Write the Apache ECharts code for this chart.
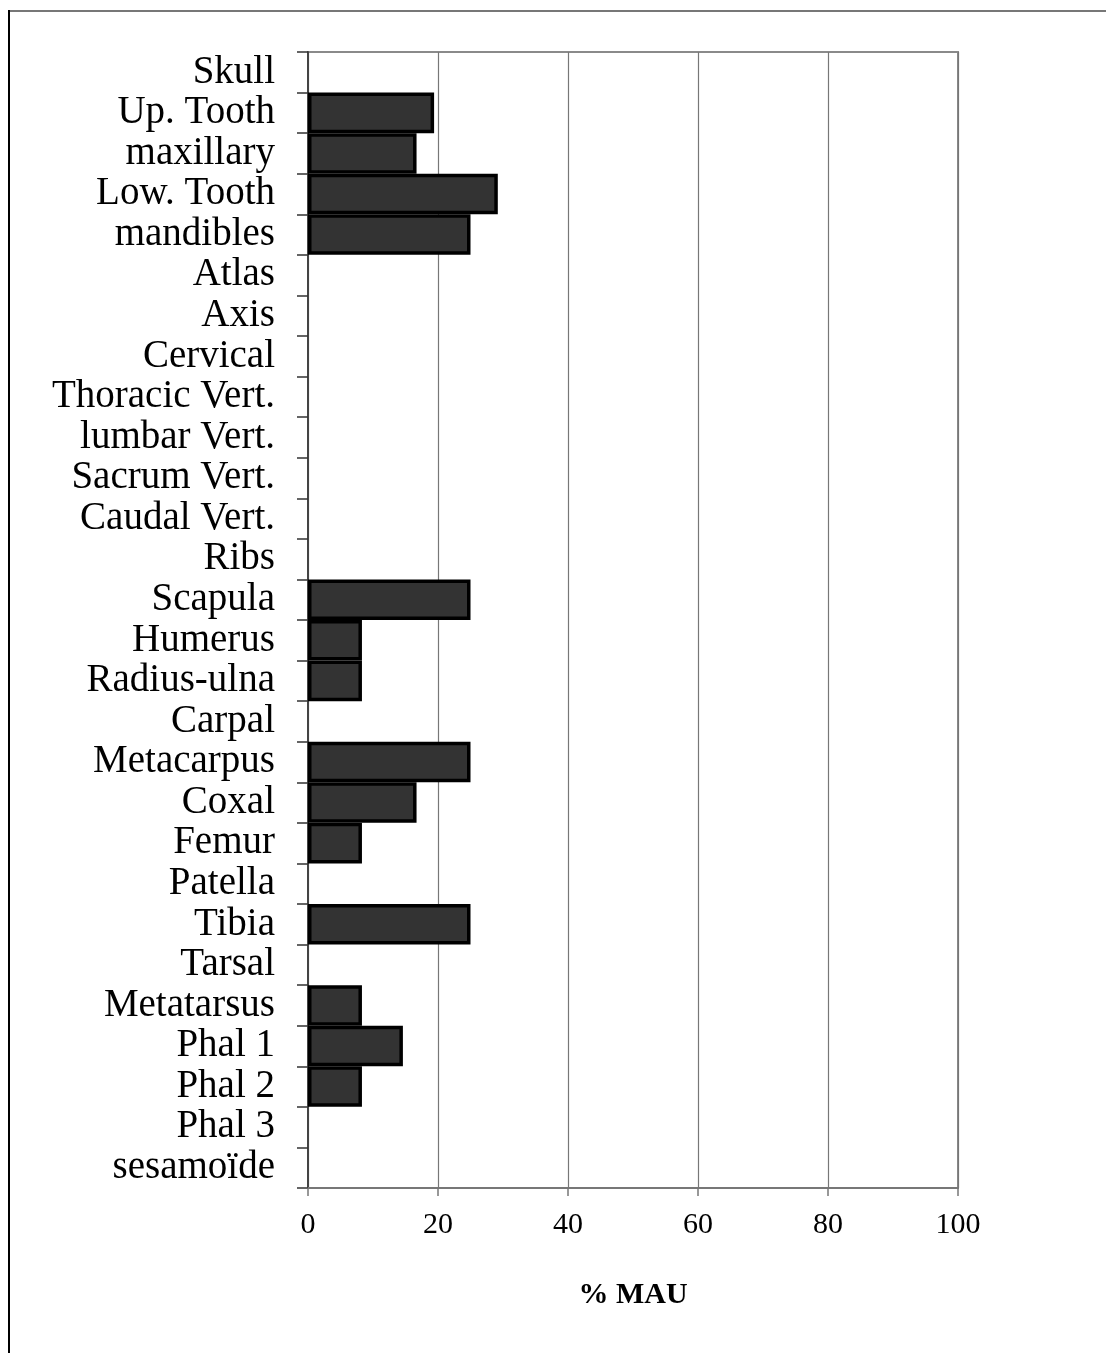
<!DOCTYPE html>
<html>
<head>
<meta charset="utf-8">
<style>
  html, body { margin: 0; padding: 0; background: #fff; }
  #chart { width: 1106px; height: 1353px; }
</style>
<script src="https://cdn.jsdelivr.net/npm/echarts@6/dist/echarts.min.js"></script>
</head>
<body>
<div id="chart"></div>
<script>
const categories = [
  'Skull', 'Up. Tooth', 'maxillary', 'Low. Tooth', 'mandibles', 'Atlas', 'Axis',
  'Cervical', 'Thoracic Vert.', 'lumbar Vert.', 'Sacrum Vert.', 'Caudal Vert.', 'Ribs',
  'Scapula', 'Humerus', 'Radius-ulna', 'Carpal', 'Metacarpus', 'Coxal', 'Femur',
  'Patella', 'Tibia', 'Tarsal', 'Metatarsus', 'Phal 1', 'Phal 2', 'Phal 3', 'sesamoïde'
];
const mauValues = [
  0, 19.4, 16.7, 29.2, 25, 0, 0,
  0, 0, 0, 0, 0, 0,
  25, 8.3, 8.3, 0, 25, 16.7, 8.3,
  0, 25, 0, 8.3, 14.6, 8.3, 0, 0
];
const xTicks = { min: 0, max: 100, interval: 20 };
const axisName = '% MAU';

const chart = echarts.init(document.getElementById('chart'));
chart.setOption({
  animation: false,
  backgroundColor: '#fff',
  textStyle: { fontFamily: 'Liberation Serif' },
  graphic: [
    { type: 'line', shape: { x1: 9, y1: 11, x2: 1106, y2: 11 }, style: { stroke: '#777', lineWidth: 2 } },
    { type: 'line', shape: { x1: 9, y1: 10, x2: 9, y2: 1353 }, style: { stroke: '#000', lineWidth: 2 } }
  ],
  grid: {
    left: 308, right: 148, top: 52, bottom: 165,
    show: true, borderColor: '#8a8a8a', borderWidth: 2, backgroundColor: 'transparent'
  },
  xAxis: {
    type: 'value',
    min: xTicks.min, max: xTicks.max, interval: xTicks.interval,
    name: axisName,
    nameLocation: 'middle',
    nameGap: 92,
    nameTextStyle: { fontFamily: 'Liberation Serif', fontWeight: 'bold', fontSize: 30, color: '#000' },
    axisLine: { show: true, lineStyle: { color: '#777', width: 2 } },
    axisTick: { show: true, length: 8, lineStyle: { color: '#777', width: 1.5 } },
    axisLabel: { fontFamily: 'Liberation Serif', fontSize: 30, color: '#000', margin: 22 },
    splitLine: { show: true, lineStyle: { color: '#777', width: 1.2 } }
  },
  yAxis: {
    type: 'category',
    data: categories,
    inverse: true,
    axisLine: { show: true, lineStyle: { color: '#444', width: 2 } },
    axisTick: { show: true, length: 11, lineStyle: { color: '#333', width: 1.5 } },
    axisLabel: { fontFamily: 'Liberation Serif', fontSize: 39, color: '#000', margin: 33, interval: 0, padding: [6, 0, 0, 0] },
    splitLine: { show: false }
  },
  series: [{
    type: 'bar',
    data: mauValues.map(v => v === 0 ? null : v),
    barWidth: '100%',
    itemStyle: { color: '#333333', borderColor: '#000', borderWidth: 3.5 }
  }]
});
</script>
</body>
</html>
